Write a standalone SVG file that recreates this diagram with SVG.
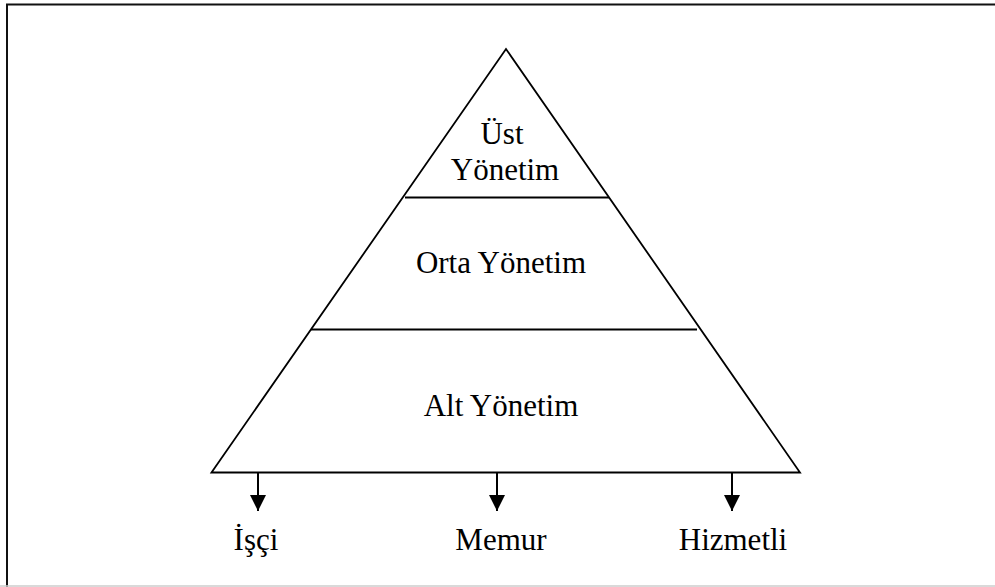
<svg xmlns="http://www.w3.org/2000/svg" width="995" height="587" viewBox="0 0 995 587">
<style>
.t{font-family:"Liberation Serif","Times New Roman",serif;font-size:31px;fill:#000;text-anchor:middle}
.ln{stroke:#000;stroke-width:2;fill:none}
</style>
<defs>
<marker id="ah" viewBox="0 0 16 16" refX="16" refY="8" markerWidth="16" markerHeight="16" markerUnits="userSpaceOnUse" orient="auto">
<path d="M0,0 L16,8 L0,16 Z" fill="#000"/>
</marker>
</defs>
<rect width="995" height="587" fill="#fff"/>
<g id="frame">
<path d="M7,587 V4.5 H995" stroke="#111" stroke-width="2" fill="none"/>
<line x1="0" y1="586" x2="995" y2="586" stroke="#ccc" stroke-width="1.5"/>
</g>
<g id="pyramid">
<polygon points="211.5,472.5 506,49 800,472.5" fill="none" stroke="#000" stroke-width="1.8" stroke-linejoin="miter"/>
<line class="ln" x1="405" y1="197.5" x2="609" y2="197.5"/>
<line class="ln" x1="311" y1="329.5" x2="697" y2="329.5"/>
</g>
<g id="ust"><text class="t" x="502" y="144">Üst</text><text class="t" x="505" y="180">Yönetim</text></g>
<g id="orta"><text class="t" x="501" y="273">Orta Yönetim</text></g>
<g id="alt"><text class="t" x="501" y="416">Alt Yönetim</text></g>
<g id="connectors">
<line class="ln" x1="258" y1="473" x2="258" y2="511" marker-end="url(#ah)"/>
<line class="ln" x1="497" y1="473" x2="497" y2="511" marker-end="url(#ah)"/>
<line class="ln" x1="732" y1="473" x2="732" y2="511" marker-end="url(#ah)"/>
</g>
<g id="isci"><text class="t" x="256" y="550">İşçi</text></g>
<g id="memur"><text class="t" x="501" y="550">Memur</text></g>
<g id="hizmetli"><text class="t" x="733" y="550">Hizmetli</text></g>
</svg>
